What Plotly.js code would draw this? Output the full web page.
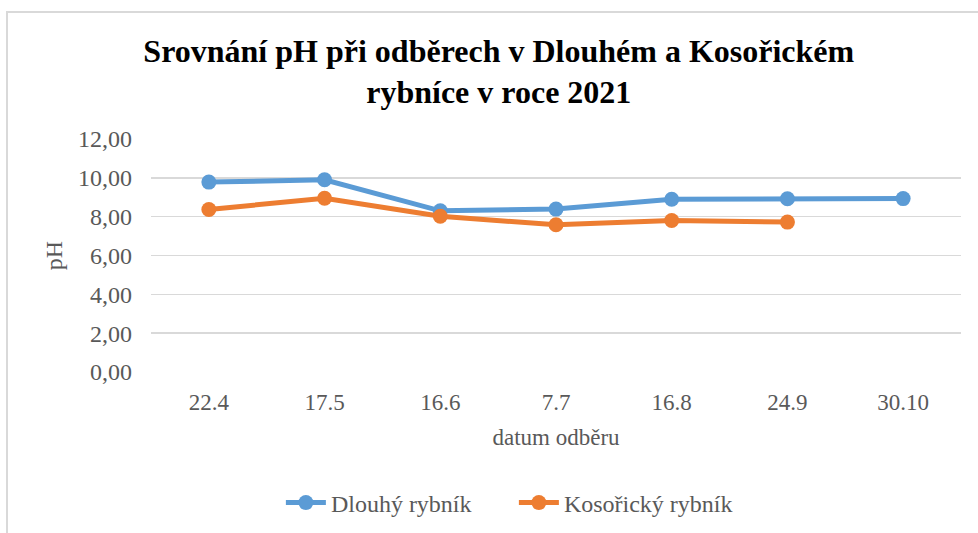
<!DOCTYPE html>
<html>
<head>
<meta charset="utf-8">
<script src="https://cdn.plot.ly/plotly-3.0.1.min.js"></script>
<style>
html,body{margin:0;padding:0;background:#fff;}
#wrap{position:relative;width:978px;height:533px;overflow:hidden;}
#frame{position:absolute;left:6px;top:11px;width:980px;height:540px;border-top:2px solid #d9d9d9;border-left:2px solid #d9d9d9;pointer-events:none;z-index:5;}
#chart{position:absolute;left:0;top:0;width:978px;height:533px;}
</style>
</head>
<body>
<div id="wrap">
<div id="chart"></div>
<div id="frame"></div>
</div>
<script>
const categories = ['22.4', '17.5', '16.6', '7.7', '16.8', '24.9', '30.10'];
const dlouhyValues = [9.78, 9.90, 8.30, 8.39, 8.90, 8.92, 8.93];
const kosorickyValues = [8.37, 8.95, 8.02, 7.58, 7.80, 7.72, null];
const yTickVals = [0, 2, 4, 6, 8, 10, 12];
const yTickText = ['0,00', '2,00', '4,00', '6,00', '8,00', '10,00', '12,00'];
const seriesNames = ['Dlouhý rybník', 'Kosořický rybník'];

const serif = 'Liberation Serif, Times New Roman, serif';
const grey = '#595959';

const traces = [
  {
    x: categories, y: dlouhyValues, name: seriesNames[0],
    type: 'scatter', mode: 'lines+markers',
    line: {color: '#5B9BD5', width: 5},
    marker: {color: '#5B9BD5', size: 15},
    connectgaps: false
  },
  {
    x: categories, y: kosorickyValues, name: seriesNames[1],
    type: 'scatter', mode: 'lines+markers',
    line: {color: '#ED7D31', width: 5},
    marker: {color: '#ED7D31', size: 15},
    connectgaps: false
  }
];

const layout = {
  width: 978, height: 533,
  paper_bgcolor: '#ffffff', plot_bgcolor: '#ffffff',
  margin: {l: 151, r: 17, t: 139, b: 161},
  title: {
    text: '<b>Srovnání pH při odběrech v Dlouhém a Kosořickém</b><br><b>rybníce v roce 2021</b>',
    font: {family: serif, size: 32, color: '#000000'},
    x: 0.510, xanchor: 'center', xref: 'container',
    y: 0.884, yanchor: 'top', yref: 'container'
  },
  xaxis: {
    type: 'category',
    range: [-0.5, 6.5],
    showgrid: false, zeroline: false, showline: false,
    ticks: '', ticklabelstandoff: 14,
    tickfont: {family: serif, size: 23, color: grey},
    title: {text: 'datum odběru', font: {family: serif, size: 23, color: grey}, standoff: 14}
  },
  yaxis: {
    range: [0, 12],
    tickvals: yTickVals, ticktext: yTickText,
    showgrid: true, gridcolor: '#d9d9d9', gridwidth: 1.5,
    zeroline: false, showline: false,
    ticks: '', ticklabelstandoff: 18,
    tickfont: {family: serif, size: 24, color: grey},
    title: {text: 'pH', font: {family: serif, size: 24, color: grey}, standoff: 8}
  },
  showlegend: true,
  legend: {
    orientation: 'h', x: 0.448, xanchor: 'center',
    yref: 'container', y: 0.0563, yanchor: 'middle',
    font: {family: serif, size: 24, color: grey},
    itemwidth: 40, traceorder: 'normal', entrywidth: 178,
    bgcolor: 'rgba(0,0,0,0)'
  }
};

Plotly.newPlot('chart', traces, layout, {displayModeBar: false, staticPlot: true});
</script>
</body>
</html>
